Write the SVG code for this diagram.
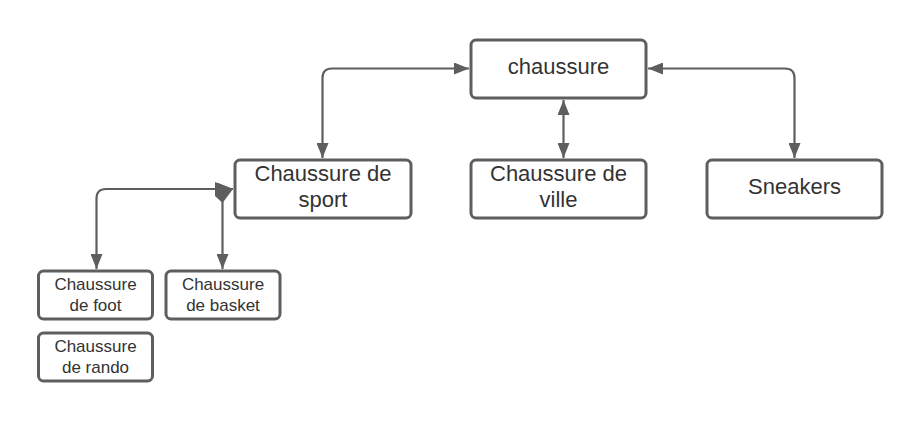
<svg xmlns="http://www.w3.org/2000/svg" width="922" height="421" viewBox="0 0 922 421">
<style>
.box{fill:#fff;stroke:#5e5e5e;stroke-width:3}
.t{font-family:"Liberation Sans",Arial,sans-serif;fill:#333;text-anchor:middle}
.big{font-size:22px}
.sm{font-size:17px}
.c{fill:none;stroke:#5e5e5e;stroke-width:2.2}
</style>
<defs>
<marker id="ah" viewBox="0 0 15 12" refX="15" refY="6" markerWidth="15" markerHeight="12" markerUnits="userSpaceOnUse" orient="auto-start-reverse">
<path d="M0,0 L15,6 L0,12 z" fill="#5e5e5e"/>
</marker>
</defs>
<rect width="922" height="421" fill="#fff"/>
<g id="connectors">
<path class="c" d="M322.5,158 V78 Q322.5,68.5 332,68.5 H469" marker-start="url(#ah)" marker-end="url(#ah)"/>
<path class="c" d="M648,68.5 H785 Q794.5,68.5 794.5,78 V158" marker-start="url(#ah)" marker-end="url(#ah)"/>
<path class="c" d="M563.5,100 V158" marker-start="url(#ah)" marker-end="url(#ah)"/>
<path class="c" d="M233,189 H106 Q96.5,189 96.5,198.5 V269" marker-start="url(#ah)" marker-end="url(#ah)"/>
<path class="c" d="M222.5,189 V269" marker-end="url(#ah)"/>
<polygon points="215,182 233,189 222.5,203 215,196" fill="#5e5e5e"/>
</g>
<g id="n-chaussure"><rect class="box" x="471" y="40" width="175" height="58" rx="5"/><text class="t big" x="558.5" y="73.5">chaussure</text></g>
<g id="n-sport"><rect class="box" x="235" y="160" width="176" height="58" rx="5"/><text class="t big" x="323" y="181">Chaussure de</text><text class="t big" x="323" y="207">sport</text></g>
<g id="n-ville"><rect class="box" x="471" y="160" width="175" height="58" rx="5"/><text class="t big" x="558.5" y="181">Chaussure de</text><text class="t big" x="558.5" y="207">ville</text></g>
<g id="n-sneakers"><rect class="box" x="707" y="160" width="175" height="58" rx="5"/><text class="t big" x="794.5" y="194">Sneakers</text></g>
<g id="n-foot"><rect class="box" x="38.5" y="271" width="114" height="48" rx="5"/><text class="t sm" x="95.5" y="290">Chaussure</text><text class="t sm" x="95.5" y="311">de foot</text></g>
<g id="n-basket"><rect class="box" x="166" y="271" width="114" height="48" rx="5"/><text class="t sm" x="223" y="290">Chaussure</text><text class="t sm" x="223" y="311">de basket</text></g>
<g id="n-rando"><rect class="box" x="38.5" y="333" width="114" height="48" rx="5"/><text class="t sm" x="95.5" y="352">Chaussure</text><text class="t sm" x="95.5" y="373">de rando</text></g>
</svg>
